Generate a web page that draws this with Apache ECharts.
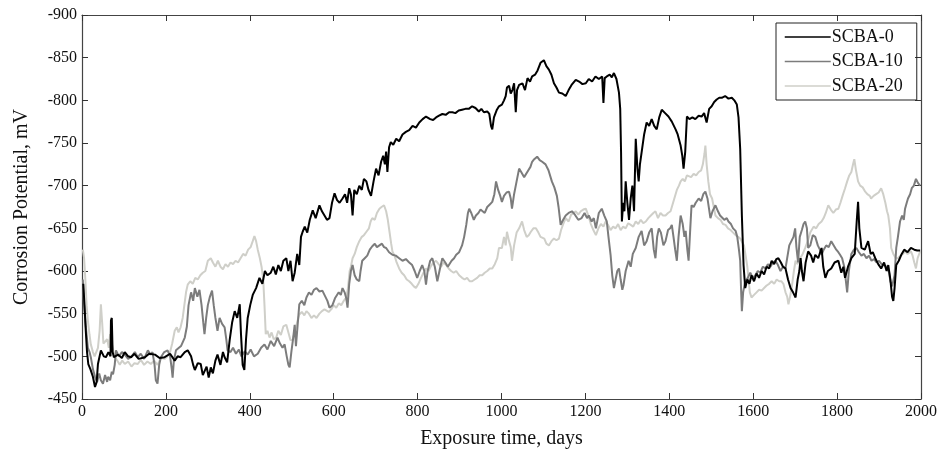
<!DOCTYPE html>
<html>
<head>
<meta charset="utf-8">
<script src="https://cdn.jsdelivr.net/npm/echarts@6/dist/echarts.min.js"></script>
<style>
html,body{margin:0;padding:0;background:#fff;}
#chart{width:940px;height:454px;}
</style>
</head>
<body>
<div id="chart"></div>
<script>
// series names
var seriesNames = ['SCBA-0', 'SCBA-10', 'SCBA-20'];
var xTicks = [0, 200, 400, 600, 800, 1000, 1200, 1400, 1600, 1800, 2000];
var yTicks = [-900, -850, -800, -750, -700, -650, -600, -550, -500, -450];

// [day, potential mV]
var scba0 = [[3,-585],[6,-560],[9,-530],[12,-505],[15,-491],[20,-485],[26,-476],[31,-464],[35,-470],[38,-491],[45,-507],[52,-500],[57,-499],[63,-505],[68,-500],[69,-542],[71,-545],[73,-505],[76,-499],[86,-502],[95,-498],[102,-505],[110,-500],[117,-499],[125,-503],[135,-497],[150,-499],[160,-503],[174,-502],[185,-498],[197,-499],[210,-503],[221,-495],[228,-500],[235,-499],[245,-505],[252,-507],[260,-500],[265,-490],[269,-484],[276,-492],[283,-491],[288,-478],[292,-476],[297,-488],[302,-475],[307,-487],[312,-480],[318,-495],[323,-502],[330,-490],[336,-505],[340,-499],[346,-493],[352,-519],[358,-540],[364,-553],[370,-545],[376,-561],[379,-526],[383,-490],[387,-484],[391,-520],[395,-545],[401,-560],[407,-572],[415,-580],[423,-592],[430,-585],[436,-600],[442,-595],[450,-598],[456,-605],[462,-596],[468,-607],[474,-600],[480,-612],[487,-615],[492,-600],[497,-612],[502,-588],[507,-598],[513,-620],[518,-607],[522,-640],[526,-646],[531,-652],[537,-645],[543,-660],[550,-671],[557,-662],[566,-677],[572,-670],[578,-665],[584,-660],[590,-662],[596,-680],[602,-691],[608,-683],[614,-680],[621,-685],[627,-690],[632,-680],[637,-697],[641,-690],[645,-665],[649,-695],[655,-690],[661,-700],[667,-695],[672,-708],[678,-705],[683,-695],[689,-688],[695,-705],[701,-720],[707,-712],[713,-728],[718,-735],[722,-725],[725,-740],[728,-716],[732,-745],[736,-751],[742,-748],[749,-755],[756,-752],[764,-760],[772,-763],[780,-765],[788,-770],[796,-768],[804,-774],[812,-778],[820,-781],[830,-778],[837,-777],[844,-780],[851,-782],[859,-784],[867,-783],[875,-786],[883,-786],[890,-785],[898,-788],[906,-789],[914,-790],[922,-790],[930,-793],[938,-791],[946,-787],[952,-790],[958,-786],[966,-787],[971,-784],[975,-770],[978,-766],[982,-780],[989,-789],[994,-793],[1001,-795],[1006,-800],[1010,-805],[1013,-815],[1018,-817],[1022,-808],[1026,-812],[1030,-820],[1034,-786],[1037,-812],[1042,-818],[1050,-820],[1056,-812],[1062,-826],[1068,-822],[1073,-828],[1080,-830],[1086,-835],[1093,-844],[1101,-847],[1107,-840],[1113,-836],[1119,-830],[1125,-820],[1131,-815],[1137,-809],[1145,-808],[1153,-805],[1160,-812],[1167,-818],[1177,-824],[1185,-822],[1193,-819],[1201,-820],[1208,-825],[1216,-822],[1224,-828],[1232,-825],[1240,-828],[1243,-797],[1246,-826],[1251,-828],[1258,-830],[1263,-827],[1268,-832],[1274,-825],[1280,-809],[1283,-790],[1285,-740],[1287,-658],[1290,-680],[1293,-670],[1296,-705],[1300,-680],[1304,-660],[1308,-685],[1312,-700],[1316,-670],[1320,-755],[1324,-720],[1327,-705],[1330,-725],[1334,-739],[1340,-760],[1346,-774],[1352,-770],[1358,-778],[1364,-770],[1370,-766],[1376,-780],[1382,-789],[1390,-785],[1398,-781],[1406,-775],[1415,-766],[1420,-760],[1427,-747],[1431,-735],[1434,-720],[1438,-740],[1442,-781],[1448,-778],[1455,-780],[1462,-778],[1470,-782],[1477,-781],[1483,-785],[1489,-774],[1495,-790],[1501,-793],[1507,-798],[1513,-801],[1519,-803],[1525,-803],[1533,-805],[1541,-802],[1549,-803],[1555,-800],[1561,-795],[1565,-780],[1569,-743],[1573,-665],[1577,-607],[1581,-580],[1586,-590],[1591,-585],[1596,-595],[1602,-588],[1608,-597],[1614,-592],[1620,-600],[1626,-596],[1632,-605],[1638,-603],[1644,-612],[1650,-608],[1655,-614],[1660,-615],[1666,-610],[1671,-605],[1677,-603],[1683,-590],[1689,-580],[1695,-575],[1701,-569],[1706,-590],[1710,-600],[1713,-615],[1716,-600],[1720,-588],[1725,-610],[1731,-623],[1738,-618],[1743,-610],[1748,-619],[1755,-615],[1763,-627],[1767,-605],[1772,-592],[1778,-600],[1786,-603],[1794,-610],[1803,-612],[1810,-598],[1815,-605],[1819,-592],[1826,-605],[1834,-615],[1842,-620],[1847,-660],[1850,-681],[1853,-650],[1858,-627],[1866,-625],[1874,-635],[1880,-620],[1885,-622],[1891,-615],[1898,-608],[1905,-603],[1912,-610],[1918,-600],[1922,-607],[1927,-590],[1931,-570],[1934,-565],[1937,-580],[1941,-607],[1947,-612],[1953,-619],[1960,-625],[1968,-622],[1976,-627],[1984,-625],[1991,-624],[1998,-624]];

var scba10 = [[2,-590],[5,-560],[9,-535],[14,-510],[18,-505],[21,-499],[26,-485],[31,-476],[36,-470],[41,-480],[45,-472],[50,-468],[55,-478],[60,-470],[62,-476],[67,-472],[71,-482],[74,-479],[78,-490],[81,-507],[88,-500],[95,-505],[102,-502],[110,-497],[118,-500],[126,-505],[133,-499],[140,-503],[148,-497],[157,-507],[163,-502],[168,-505],[173,-490],[176,-472],[180,-468],[184,-490],[188,-499],[196,-505],[204,-507],[210,-500],[214,-485],[216,-475],[219,-495],[224,-507],[228,-507],[236,-512],[245,-522],[250,-535],[254,-560],[260,-575],[265,-565],[269,-580],[275,-570],[280,-578],[285,-560],[289,-540],[292,-526],[296,-545],[300,-560],[305,-570],[310,-577],[314,-560],[318,-545],[323,-530],[328,-545],[334,-538],[340,-534],[344,-520],[347,-507],[354,-505],[360,-510],[367,-503],[374,-508],[380,-500],[388,-506],[395,-502],[402,-508],[410,-500],[419,-503],[427,-510],[435,-514],[442,-508],[450,-518],[458,-512],[466,-522],[472,-515],[478,-510],[483,-514],[488,-500],[492,-490],[495,-487],[499,-505],[503,-520],[507,-537],[510,-512],[514,-510],[518,-561],[524,-565],[530,-560],[535,-569],[541,-575],[547,-572],[553,-578],[559,-580],[566,-576],[573,-577],[580,-570],[585,-565],[590,-557],[597,-560],[603,-568],[606,-569],[612,-575],[617,-572],[621,-580],[626,-575],[630,-568],[633,-557],[637,-585],[641,-600],[645,-607],[650,-595],[655,-590],[661,-588],[664,-600],[668,-612],[674,-615],[680,-618],[686,-625],[692,-629],[698,-632],[703,-628],[709,-630],[715,-632],[720,-628],[725,-627],[732,-622],[740,-619],[748,-618],[756,-615],[764,-612],[772,-614],[780,-610],[787,-607],[793,-600],[799,-592],[805,-600],[811,-607],[816,-600],[820,-584],[824,-600],[830,-612],[835,-615],[841,-605],[847,-588],[853,-602],[859,-615],[866,-610],[872,-605],[875,-607],[881,-612],[887,-615],[892,-619],[899,-622],[906,-630],[911,-640],[916,-654],[920,-668],[923,-673],[928,-668],[934,-660],[939,-665],[945,-668],[950,-672],[954,-673],[960,-668],[966,-675],[972,-678],[978,-681],[983,-690],[987,-705],[992,-695],[997,-688],[1001,-681],[1006,-688],[1012,-692],[1018,-693],[1022,-685],[1025,-673],[1030,-690],[1036,-705],[1042,-720],[1048,-715],[1054,-710],[1058,-712],[1064,-718],[1069,-722],[1073,-728],[1078,-731],[1085,-734],[1091,-730],[1097,-728],[1105,-725],[1112,-718],[1120,-705],[1126,-698],[1132,-688],[1136,-675],[1141,-654],[1147,-660],[1153,-665],[1160,-668],[1168,-670],[1175,-666],[1183,-660],[1191,-662],[1198,-668],[1204,-662],[1208,-665],[1215,-658],[1220,-662],[1225,-650],[1232,-668],[1239,-673],[1245,-665],[1251,-658],[1255,-640],[1260,-619],[1264,-595],[1268,-580],[1272,-590],[1276,-600],[1280,-603],[1284,-590],[1288,-578],[1291,-584],[1296,-600],[1303,-612],[1308,-605],[1313,-620],[1320,-627],[1327,-640],[1334,-647],[1340,-630],[1346,-635],[1352,-645],[1358,-650],[1363,-625],[1367,-615],[1371,-640],[1375,-650],[1380,-645],[1386,-630],[1391,-635],[1397,-648],[1402,-650],[1406,-654],[1410,-640],[1414,-625],[1418,-612],[1422,-640],[1427,-665],[1432,-655],[1436,-640],[1439,-647],[1443,-625],[1446,-612],[1450,-650],[1453,-677],[1458,-675],[1463,-680],[1470,-685],[1476,-682],[1481,-690],[1486,-693],[1491,-685],[1495,-672],[1498,-662],[1503,-670],[1510,-677],[1516,-670],[1521,-665],[1525,-665],[1531,-660],[1537,-662],[1541,-658],[1547,-655],[1552,-650],[1558,-647],[1562,-640],[1566,-625],[1569,-612],[1571,-580],[1573,-553],[1576,-575],[1581,-588],[1587,-592],[1593,-598],[1599,-592],[1605,-595],[1611,-600],[1617,-598],[1623,-605],[1629,-603],[1635,-608],[1641,-605],[1647,-610],[1653,-612],[1659,-607],[1665,-600],[1671,-605],[1677,-603],[1681,-615],[1686,-630],[1691,-635],[1696,-640],[1700,-650],[1703,-628],[1707,-610],[1711,-640],[1716,-648],[1720,-655],[1724,-658],[1728,-650],[1731,-627],[1736,-630],[1742,-642],[1748,-640],[1754,-630],[1759,-625],[1763,-619],[1768,-625],[1774,-630],[1780,-628],[1786,-635],[1792,-630],[1798,-625],[1803,-622],[1807,-619],[1812,-615],[1817,-605],[1821,-588],[1824,-575],[1828,-600],[1834,-620],[1840,-625],[1846,-627],[1852,-622],[1858,-618],[1864,-620],[1870,-615],[1876,-618],[1882,-612],[1888,-614],[1894,-610],[1900,-612],[1906,-608],[1912,-607],[1918,-605],[1924,-598],[1927,-588],[1931,-582],[1934,-580],[1937,-595],[1941,-627],[1945,-640],[1950,-658],[1955,-665],[1959,-660],[1962,-673],[1966,-680],[1969,-685],[1974,-690],[1978,-697],[1983,-700],[1988,-708],[1993,-703],[1998,-700]];

var scba20 = [[2,-625],[5,-615],[8,-590],[11,-560],[14,-542],[18,-525],[21,-514],[26,-505],[30,-500],[33,-502],[38,-510],[42,-530],[45,-561],[48,-540],[51,-515],[55,-514],[60,-520],[64,-510],[67,-526],[71,-515],[75,-505],[78,-499],[84,-495],[90,-490],[96,-495],[102,-491],[110,-494],[118,-488],[125,-492],[133,-491],[140,-496],[148,-490],[156,-494],[164,-491],[172,-495],[180,-490],[188,-498],[197,-497],[204,-500],[210,-505],[215,-515],[221,-530],[226,-534],[230,-528],[235,-534],[240,-545],[244,-560],[248,-575],[252,-584],[258,-588],[264,-585],[270,-592],[276,-590],[282,-595],[288,-598],[294,-600],[300,-612],[307,-615],[312,-610],[318,-605],[324,-612],[330,-605],[336,-602],[342,-608],[348,-605],[354,-610],[360,-608],[366,-612],[372,-610],[378,-615],[384,-620],[390,-618],[396,-625],[402,-628],[407,-635],[411,-641],[415,-635],[419,-625],[424,-615],[428,-605],[432,-590],[435,-560],[438,-526],[442,-530],[447,-522],[452,-528],[457,-520],[463,-522],[468,-530],[474,-525],[480,-535],[487,-537],[492,-528],[497,-519],[502,-519],[508,-530],[514,-542],[518,-549],[524,-552],[530,-548],[535,-553],[541,-550],[547,-545],[553,-548],[559,-545],[566,-550],[572,-553],[578,-555],[582,-557],[588,-552],[594,-555],[600,-560],[606,-557],[612,-562],[618,-560],[624,-565],[630,-569],[634,-580],[638,-600],[641,-605],[645,-615],[650,-620],[655,-628],[661,-635],[667,-640],[672,-642],[678,-646],[684,-650],[688,-658],[692,-662],[698,-660],[703,-668],[709,-673],[714,-675],[720,-677],[725,-670],[729,-660],[733,-646],[737,-632],[740,-623],[745,-618],[750,-610],[756,-603],[762,-598],[768,-595],[774,-590],[780,-588],[786,-585],[791,-582],[796,-580],[802,-585],[808,-592],[814,-598],[820,-603],[826,-600],[832,-606],[838,-610],[844,-612],[850,-608],[856,-605],[862,-610],[868,-607],[874,-603],[880,-600],[886,-598],[892,-600],[899,-595],[906,-592],[912,-590],[918,-592],[924,-588],[930,-588],[936,-590],[942,-592],[948,-595],[954,-595],[960,-598],[966,-600],[972,-603],[978,-603],[984,-608],[990,-615],[994,-627],[1001,-627],[1006,-640],[1010,-630],[1013,-646],[1018,-635],[1022,-628],[1025,-612],[1030,-630],[1036,-645],[1042,-650],[1046,-652],[1049,-658],[1054,-648],[1060,-640],[1065,-642],[1070,-646],[1076,-650],[1082,-650],[1088,-645],[1093,-640],[1097,-642],[1102,-638],[1107,-632],[1113,-630],[1119,-635],[1125,-638],[1131,-636],[1137,-638],[1142,-648],[1147,-655],[1153,-662],[1160,-658],[1166,-666],[1172,-668],[1177,-670],[1183,-666],[1189,-670],[1195,-672],[1201,-673],[1207,-665],[1213,-655],[1219,-648],[1225,-642],[1231,-650],[1237,-655],[1243,-652],[1248,-658],[1254,-654],[1260,-648],[1266,-652],[1272,-650],[1278,-655],[1284,-648],[1290,-652],[1296,-650],[1302,-656],[1308,-654],[1314,-652],[1320,-658],[1326,-655],[1332,-660],[1338,-656],[1344,-658],[1350,-662],[1356,-665],[1362,-668],[1367,-670],[1373,-662],[1379,-668],[1385,-665],[1391,-665],[1397,-668],[1403,-670],[1406,-670],[1412,-685],[1418,-695],[1423,-700],[1427,-705],[1432,-708],[1437,-705],[1442,-712],[1446,-712],[1452,-710],[1458,-714],[1464,-712],[1470,-716],[1476,-718],[1480,-725],[1484,-738],[1486,-747],[1489,-725],[1493,-705],[1497,-690],[1502,-685],[1506,-675],[1510,-665],[1516,-662],[1522,-660],[1528,-655],[1534,-654],[1540,-650],[1546,-648],[1552,-645],[1558,-642],[1564,-640],[1569,-638],[1573,-638],[1578,-630],[1582,-618],[1586,-605],[1589,-590],[1592,-575],[1596,-569],[1602,-572],[1608,-575],[1614,-578],[1620,-577],[1626,-580],[1632,-583],[1638,-585],[1644,-588],[1650,-585],[1656,-590],[1662,-588],[1667,-588],[1672,-585],[1677,-575],[1681,-570],[1684,-561],[1688,-570],[1693,-585],[1697,-600],[1701,-612],[1706,-608],[1712,-615],[1718,-620],[1724,-627],[1730,-635],[1736,-645],[1739,-647],[1744,-652],[1750,-650],[1756,-655],[1763,-658],[1768,-662],[1773,-668],[1779,-677],[1785,-672],[1791,-668],[1797,-672],[1803,-673],[1808,-680],[1813,-688],[1819,-697],[1824,-705],[1829,-712],[1834,-716],[1838,-725],[1841,-731],[1845,-718],[1850,-705],[1855,-700],[1861,-698],[1867,-693],[1872,-690],[1878,-688],[1881,-685],[1887,-688],[1893,-690],[1899,-692],[1905,-697],[1910,-690],[1915,-680],[1919,-670],[1922,-665],[1926,-650],[1929,-627],[1934,-620],[1940,-615],[1945,-615],[1951,-618],[1957,-620],[1962,-623],[1968,-620],[1972,-622],[1976,-623],[1980,-618],[1984,-610],[1988,-603],[1992,-615],[1998,-623]];

var lineColors = ['#000000', '#7c7c7c', '#cfcfc9'];

var chart = echarts.init(document.getElementById('chart'));
var font = '"Liberation Serif", "DejaVu Serif", serif';

function frameAxis(pos, labels){
    var horiz = pos=='top'||pos=='bottom';
    return {
        type: 'value', position: pos,
        min: horiz ? xTicks[0] : yTicks[0],
        max: horiz ? xTicks[xTicks.length-1] : yTicks[yTicks.length-1],
        interval: horiz ? 200 : 50,
        inverse: !horiz,
        axisLine: {show: true, onZero: false, lineStyle: {color: '#444', width: 1.2}},
        axisTick: {show: true, inside: true, length: 6, lineStyle: {color: '#333'}},
        axisLabel: {show: labels, color: '#111', fontFamily: font, fontSize: 16, margin: 5,
                    formatter: function(v){ return String(v); }},
        splitLine: {show: false}
    };
}

var xa = frameAxis('bottom', true);
xa.name = 'Exposure time, days';
xa.nameLocation = 'middle';
xa.nameGap = 30;
xa.nameTextStyle = {color: '#111', fontFamily: font, fontSize: 20};
var ya = frameAxis('left', true);
ya.name = 'Corrosion Potential, mV';
ya.nameLocation = 'middle';
ya.nameGap = 50;
ya.nameTextStyle = {color: '#111', fontFamily: font, fontSize: 20};

var option = {
    animation: false,
    backgroundColor: '#fff',
    grid: {left: 82, right: 17, top: 15, bottom: 52},
    xAxis: [xa, frameAxis('top', false)],
    yAxis: [ya, frameAxis('right', false)],
    legend: {
        orient: 'vertical',
        left: 776, top: 23,
        padding: [5, 14, 5, 8],
        itemGap: 6.5,
        itemWidth: 46, itemHeight: 16,
        borderColor: '#222', borderWidth: 1,
        itemStyle: {opacity: 0},
        lineStyle: {width: 1.5},
        textStyle: {color: '#111', fontFamily: font, fontSize: 18, padding: [0, 0, 0, -4]},
        data: seriesNames
    },
    series: [
        {name: seriesNames[0], type: 'line', data: scba0, symbol: 'none', z: 5,
         lineStyle: {color: lineColors[0], width: 2}, itemStyle: {color: lineColors[0]}},
        {name: seriesNames[1], type: 'line', data: scba10, symbol: 'none', z: 4,
         lineStyle: {color: lineColors[1], width: 2}, itemStyle: {color: lineColors[1]}},
        {name: seriesNames[2], type: 'line', data: scba20, symbol: 'none', z: 3,
         lineStyle: {color: lineColors[2], width: 2}, itemStyle: {color: lineColors[2]}}
    ]
};
chart.setOption(option);
</script>
</body>
</html>
